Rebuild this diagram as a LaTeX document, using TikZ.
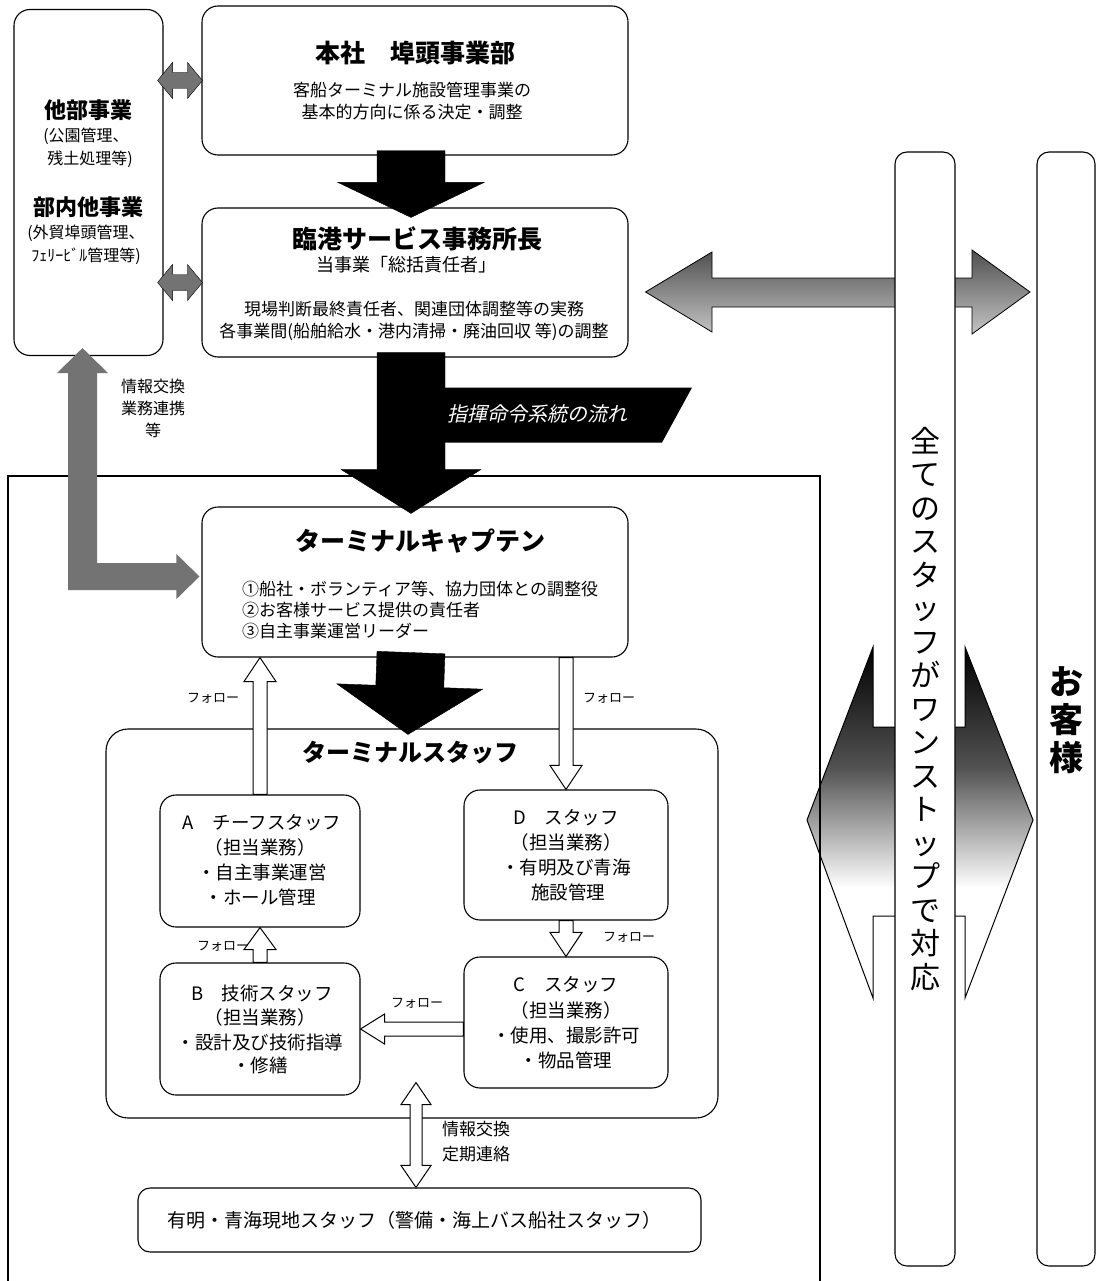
\documentclass[tikz,border=0pt]{standalone}
\usepackage{fontspec}
\setmainfont{Noto Sans CJK JP}
\newfontfamily\slantjp{Noto Sans CJK JP}[FakeSlant=0.22]
\usetikzlibrary{calc}
\pgfdeclarelayer{bg}
\pgfsetlayers{bg,main}
\newcommand\fz[1]{\fontsize{#1}{#1}\selectfont}
% block arrow: style, start, tip, shaft half width, head half width, head length
\newcommand\blockarrow[6]{%
  \path ($(#3)!#6!(#2)$) coordinate (BAH);
  \draw[#1] ($(#2)!#4!90:(#3)$) -- ($(BAH)!#4!-90:(#2)$) -- ($(BAH)!#5!-90:(#2)$) -- (#3)
    -- ($(BAH)!#5!90:(#2)$) -- ($(BAH)!#4!90:(#2)$) -- ($(#2)!#4!-90:(#3)$) -- cycle;}
% double block arrow: style, tipA, tipB, shaft half, head half, head length
\newcommand\dblarrow[6]{%
  \path ($(#2)!#6!(#3)$) coordinate (DAa) ($(#3)!#6!(#2)$) coordinate (DAb);
  \draw[#1] (#2) -- ($(DAa)!#5!90:(#3)$) -- ($(DAa)!#4!90:(#3)$) -- ($(DAb)!#4!-90:(#2)$)
    -- ($(DAb)!#5!-90:(#2)$) -- (#3) -- ($(DAb)!#5!90:(#2)$) -- ($(DAb)!#4!90:(#2)$)
    -- ($(DAa)!#4!-90:(#3)$) -- ($(DAa)!#5!-90:(#3)$) -- cycle;}
\begin{document}
\begin{tikzpicture}[x=1pt,y=-1pt,
  box/.style={draw, line width=1.1pt, rounded corners=16pt, fill=white, inner sep=0pt},
  panel/.style={draw, line width=1.1pt, rounded corners=12pt, fill=white, inner sep=0pt},
  txt/.style={inner sep=0pt, font=\fz{17}},
  stx/.style={inner sep=0pt, font=\fz{18.5}},
  ttl/.style={inner sep=0pt, font=\fz{25}\bfseries},
  sm/.style={inner sep=0pt, font=\fz{13}},
  blk/.style={fill=black},
  hol/.style={draw, fill=white, line width=1pt, line join=miter},
  gry/.style={fill=black!55},
  frame/.style={line width=1.4pt}
]
\useasboundingbox (0,0) rectangle (1099,1281);

% ---------- boxes ----------
\node[box, minimum width=149pt, minimum height=346pt] (lb) at (88.5,182.5) {};
\node[box, minimum width=426pt, minimum height=149pt] (top) at (415,80.5) {};
\node[box, minimum width=426pt, minimum height=149pt] (svc) at (415,282.5) {};
\node[box, minimum width=426pt, minimum height=150pt] (cap) at (415,582) {};
\node[box, rounded corners=22pt, minimum width=612pt, minimum height=389pt] (staff) at (412,923.5) {};
\node[box, minimum width=200pt, minimum height=132pt] (A) at (260,861) {};
\node[box, minimum width=200pt, minimum height=132pt] (B) at (260,1029) {};
\node[box, minimum width=204pt, minimum height=130pt] (D) at (566,855) {};
\node[box, minimum width=204pt, minimum height=131pt] (C) at (566,1022.5) {};
\node[box, rounded corners=12pt, minimum width=563pt, minimum height=64pt] (loc) at (419.5,1220) {};

% ---------- right side arrows (behind panels) ----------
\begin{pgfonlayer}{bg}
\fill[white] (0,0) rectangle (1099,1281);
\begin{scope}
\clip (807,820) -- (873,647) -- (873,727) -- (965,727) -- (965,647) -- (1033,820)
  -- (965,998) -- (965,916) -- (873,916) -- (873,998) -- cycle;
\shade[top color=black, bottom color=white, middle color=black!68] (800,647) rectangle (1040,888);
\end{scope}
\draw[line width=1pt] (807,820) -- (873,647) -- (873,727) -- (965,727) -- (965,647) -- (1033,820)
  -- (965,998) -- (965,916) -- (873,916) -- (873,998) -- cycle;
\coordinate (h1) at ($(svc.east)+(17,9.5)$);
\coordinate (h2) at (1030,292);
\begin{scope}
\clip (h1) -- (712,252) -- (712,278) -- (972,278) -- (972,250) -- (h2) -- (972,334) -- (972,307)
  -- (712,307) -- (712,332) -- cycle;
\shade[top color=black!70, bottom color=black!22] (640,248) rectangle (1035,336);
\end{scope}
\draw[line width=0.8pt] (h1) -- (712,252) -- (712,278) -- (972,278) -- (972,250) -- (h2) -- (972,334) -- (972,307)
  -- (712,307) -- (712,332) -- cycle;
\end{pgfonlayer}

% ---------- outer frame ----------
\draw[frame] (8,1281) -- (8,476) -- (820,476) -- (820,1281);

% ---------- right panels ----------
\node[panel, minimum width=60pt, minimum height=1114pt] (all) at (925,709) {};
\node[panel, minimum width=58pt, minimum height=1114pt] (cust) at (1066,709) {};
\node[inner sep=0pt, align=center, font=\fontsize{30}{33.5}\selectfont] (vt) at (925,709)
  {全\\て\\の\\ス\\タ\\ッ\\フ\\が\\ワ\\ン\\ス\\ト\\ッ\\プ\\で\\対\\応};
\node[inner sep=0pt, align=center, font=\fontsize{34}{38}\selectfont\bfseries] (ct) at (1066,720)
  {お\\客\\様};

% ---------- black command arrows ----------
\coordinate (a1s) at ($(top.south)+(-4,-5)$);
\coordinate (a1t) at ($(svc.north)+(-4,10)$);
\blockarrow{blk}{a1s}{a1t}{34pt}{73pt}{35pt}
\coordinate (a2s) at ($(svc.south)+(-4,-5)$);
\coordinate (a2t) at ($(cap.north)+(-4,7)$);
\blockarrow{blk}{a2s}{a2t}{34pt}{70pt}{44pt}
\coordinate (bn) at ($(svc.south)+(30,30)$);
\fill (bn) -- ++(247,0) -- ++(-30,55) -- ++(-217,0) -- cycle;
\node[inner sep=0pt, font=\slantjp\fz{20}, text=white] (bt) at (537,414) {指揮命令系統の流れ};
\coordinate (a3s) at ($(cap.south)+(-4,-5)$);
\coordinate (a3t) at ($(staff.north)+(-4,6)$);
\blockarrow{blk}{a3s}{a3t}{34pt}{73pt}{48pt}

% ---------- gray arrows ----------
\coordinate (d1a) at ($(lb.east |- top.west)+(-6,0)$);
\coordinate (d1b) at ($(top.west)+(1,0)$);
\dblarrow{gry}{d1a}{d1b}{8pt}{18pt}{15pt}
\coordinate (d2a) at ($(lb.east |- svc.west)+(-6,0)$);
\coordinate (d2b) at ($(svc.west)+(1,0)$);
\dblarrow{gry}{d2a}{d2b}{8pt}{18pt}{15pt}
\coordinate (t1) at ($(lb.south)+(-6,-8)$);
\coordinate (t2) at ($(cap.west)+(-2,-5.5)$);
\coordinate (el) at (t1 |- t2);
\fill[gry] (t1) -- ($(t1)+(25.5,25)$) -- ($(t1)+(14.5,25)$) -- ($(el)+(14.5,-13.5)$)
  -- ($(t2)+(-23,-13.5)$) -- ($(t2)+(-23,-22.5)$) -- (t2) -- ($(t2)+(-23,22.5)$)
  -- ($(t2)+(-23,13.5)$) -- ($(el)+(-14.5,13.5)$) -- ($(t1)+(-14.5,25)$) -- ($(t1)+(-25.5,25)$) -- cycle;

% ---------- hollow follow arrows ----------
\blockarrow{hol}{A.north}{cap.south -| A.north}{7pt}{16pt}{24pt}
\coordinate (cd) at (cap.south -| D.north);
\blockarrow{hol}{cd}{D.north}{7pt}{16pt}{24pt}
\blockarrow{hol}{D.south}{C.north}{7pt}{16pt}{24pt}
\blockarrow{hol}{B.north}{A.south}{7pt}{16pt}{22pt}
\coordinate (cb) at (C.west |- B.east);
\blockarrow{hol}{cb}{B.east}{7pt}{15pt}{24pt}
\coordinate (q1) at ($(staff.south)+(4,-36)$);
\coordinate (q2) at (q1 |- loc.north);
\dblarrow{hol}{q1}{q2}{6pt}{15pt}{22pt}

% ---------- texts ----------
\node[inner sep=0pt, font=\fz{22}\bfseries] (lt1) at (88,110) {他部事業};
\node[inner sep=0pt, font=\fz{16}] (lt2) at (86,136) {(公園管理、};
\node[inner sep=0pt, font=\fz{16}] (lt3) at (90,159) {残土処理等)};
\node[inner sep=0pt, font=\fz{22}\bfseries] (lt4) at (88,207) {部内他事業};
\node[inner sep=0pt, font=\fz{16}] (lt5) at (86,233) {(外貿埠頭管理、};
\node[inner sep=0pt, font=\fz{16}] (lt6) at (86,256) {ﾌｪﾘｰﾋﾞﾙ管理等)};
\node[inner sep=0pt, align=center, font=\fontsize{16}{22}\selectfont] (lbl) at (153,408) {情報交換\\業務連携\\等};

\node[ttl] (tt1) at (415,53) {本社　埠頭事業部};
\node[txt] (tt2) at (412,90) {客船ターミナル施設管理事業の};
\node[txt] (tt3) at (412,112) {基本的方向に係る決定・調整};

\node[ttl] (st1) at (417,239) {臨港サービス事務所長};
\node[inner sep=0pt, font=\fz{18}] (st2) at (406,265) {当事業「総括責任者」};
\node[txt] (st3) at (414,309) {現場判断最終責任者、関連団体調整等の実務};
\node[txt] (st4) at (414,332) {各事業間(船舶給水・港内清掃・廃油回収 等)の調整};

\node[ttl] (ct1) at (420,541) {ターミナルキャプテン};
\node[txt, anchor=west] (ct2) at (242,589) {①船社・ボランティア等、協力団体との調整役};
\node[txt, anchor=west] (ct3) at (242,610) {②お客様サービス提供の責任者};
\node[txt, anchor=west] (ct4) at (242,631) {③自主事業運営リーダー};

\node[inner sep=0pt, font=\fz{24}\bfseries] (sft) at (410,753) {ターミナルスタッフ};

\node[stx] (a1) at (262,823) {A　チーフスタッフ};
\node[stx] (a2) at (260,847) {（担当業務）};
\node[stx] (a3) at (262,872) {・自主事業運営};
\node[stx] (a4) at (260,897) {・ホール管理};

\node[stx] (dd1) at (566,818) {D　スタッフ};
\node[stx] (dd2) at (566,842) {（担当業務）};
\node[stx] (dd3) at (566,868) {・有明及び青海};
\node[stx] (dd4) at (568,892) {施設管理};

\node[stx] (c1) at (566,985) {C　スタッフ};
\node[stx] (c2) at (566,1010) {（担当業務）};
\node[stx] (c3) at (566,1035) {・使用、撮影許可};
\node[stx] (c4) at (566,1060) {・物品管理};

\node[stx] (b1) at (262,993) {B　技術スタッフ};
\node[stx] (b2) at (260,1017) {（担当業務）};
\node[stx] (b3) at (260,1042) {・設計及び技術指導};
\node[stx] (b4) at (260,1065) {・修繕};

\node[sm] (f1) at (213,698) {フォロー};
\node[sm] (f2) at (609,698) {フォロー};
\node[sm] (f3) at (223,946) {フォロー};
\node[sm] (f4) at (629,937) {フォロー};
\node[sm] (f5) at (417,1003) {フォロー};

\node[inner sep=0pt, align=left, anchor=west, font=\fontsize{17}{25}\selectfont] (il) at (442,1142) {情報交換\\定期連絡};
\node[inner sep=0pt, font=\fz{19}] (lt) at (414,1220) {有明・青海現地スタッフ（警備・海上バス船社スタッフ）};
\end{tikzpicture}
\end{document}
